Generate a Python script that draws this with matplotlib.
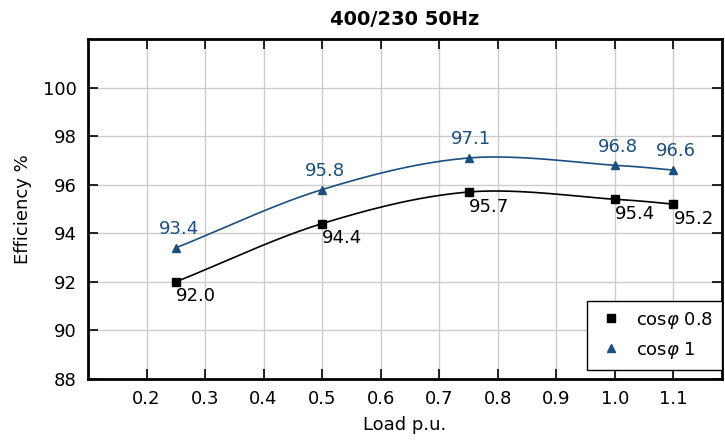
import matplotlib
matplotlib.use('Agg')
import matplotlib.pyplot as plt
import numpy as np

# data
load = [0.25, 0.5, 0.75, 1.0, 1.1]
eff_08 = [92.0, 94.4, 95.7, 95.4, 95.2]
eff_1 = [93.4, 95.8, 97.1, 96.8, 96.6]
labels_08 = ['92.0', '94.4', '95.7', '95.4', '95.2']
labels_1 = ['93.4', '95.8', '97.1', '96.8', '96.6']

BLUE = '#1b4f7f'

plt.rcParams['font.family'] = ['DejaVu Sans']
plt.rcParams['mathtext.fontset'] = 'dejavusans'


def smooth(x, y, n=40):
    # catmull-rom style smoothing like a spreadsheet "smooth line"
    x = np.asarray(x, float)
    y = np.asarray(y, float)
    px = np.concatenate([[2 * x[0] - x[1]], x, [2 * x[-1] - x[-2]]])
    py = np.concatenate([[2 * y[0] - y[1]], y, [2 * y[-1] - y[-2]]])
    xs, ys = [], []
    t = np.linspace(0, 1, n)
    for i in range(1, len(px) - 2):
        for p, out in ((px, xs), (py, ys)):
            p0, p1, p2, p3 = p[i - 1], p[i], p[i + 1], p[i + 2]
            out.append(0.5 * ((2 * p1) + (-p0 + p2) * t
                              + (2 * p0 - 5 * p1 + 4 * p2 - p3) * t ** 2
                              + (-p0 + 3 * p1 - 3 * p2 + p3) * t ** 3))
    return np.concatenate(xs), np.concatenate(ys)


fig = plt.figure(figsize=(7.25, 4.42), dpi=100)
ax = fig.add_axes([88 / 725, 63 / 442, 634 / 725, 340 / 442])

sx, sy = smooth(load, eff_08)
ax.plot(sx, sy, color='black', lw=1.2, zorder=3)
ax.plot(load, eff_08, 's', color='black', ms=6, ls='none', label=r'cos$\varphi$ 0.8', zorder=4)

sx, sy = smooth(load, eff_1)
ax.plot(sx, sy, color=BLUE, lw=1.2, zorder=3)
ax.plot(load, eff_1, '^', color=BLUE, ms=6, ls='none', label=r'cos$\varphi$ 1', zorder=4)

for x, y, t in zip(load, eff_08, labels_08):
    ax.annotate(t, (x, y), xytext=(0, -4), textcoords='offset points',
                ha='left', va='top', fontsize=13, color='black')
for x, y, t in zip(load, eff_1, labels_1):
    ax.annotate(t, (x, y), xytext=(2, 7), textcoords='offset points',
                ha='center', va='bottom', fontsize=13, color=BLUE)

ax.set_xlim(0.1, 1.183)
ax.set_ylim(88, 102)
ax.set_xticks([0.2, 0.3, 0.4, 0.5, 0.6, 0.7, 0.8, 0.9, 1.0, 1.1])
ax.set_xticklabels(['0.2', '0.3', '0.4', '0.5', '0.6', '0.7', '0.8', '0.9', '1.0', '1.1'])
ax.set_yticks([88, 90, 92, 94, 96, 98, 100])
ax.grid(True, color='#cccccc', lw=1)
ax.set_axisbelow(True)
ax.tick_params(direction='in', length=7, width=1.2, top=True, right=True,
               labelsize=13, pad=8)
for s in ax.spines.values():
    s.set_linewidth(2)

ax.set_xlabel('Load p.u.', fontsize=13, labelpad=6)
ax.set_ylabel('Efficiency %', fontsize=13, labelpad=8)
ax.set_title('400/230 50Hz', fontsize=14, fontweight='bold', pad=10)

leg = ax.legend(loc='lower right', bbox_to_anchor=(1.0, 0.027), fontsize=13,
                frameon=True, fancybox=False, edgecolor='black', framealpha=1,
                borderaxespad=0, handletextpad=0.6, handlelength=1.6,
                borderpad=0.5, labelspacing=0.5)
leg.get_frame().set_linewidth(1)

plt.savefig('out.png', dpi=100)
